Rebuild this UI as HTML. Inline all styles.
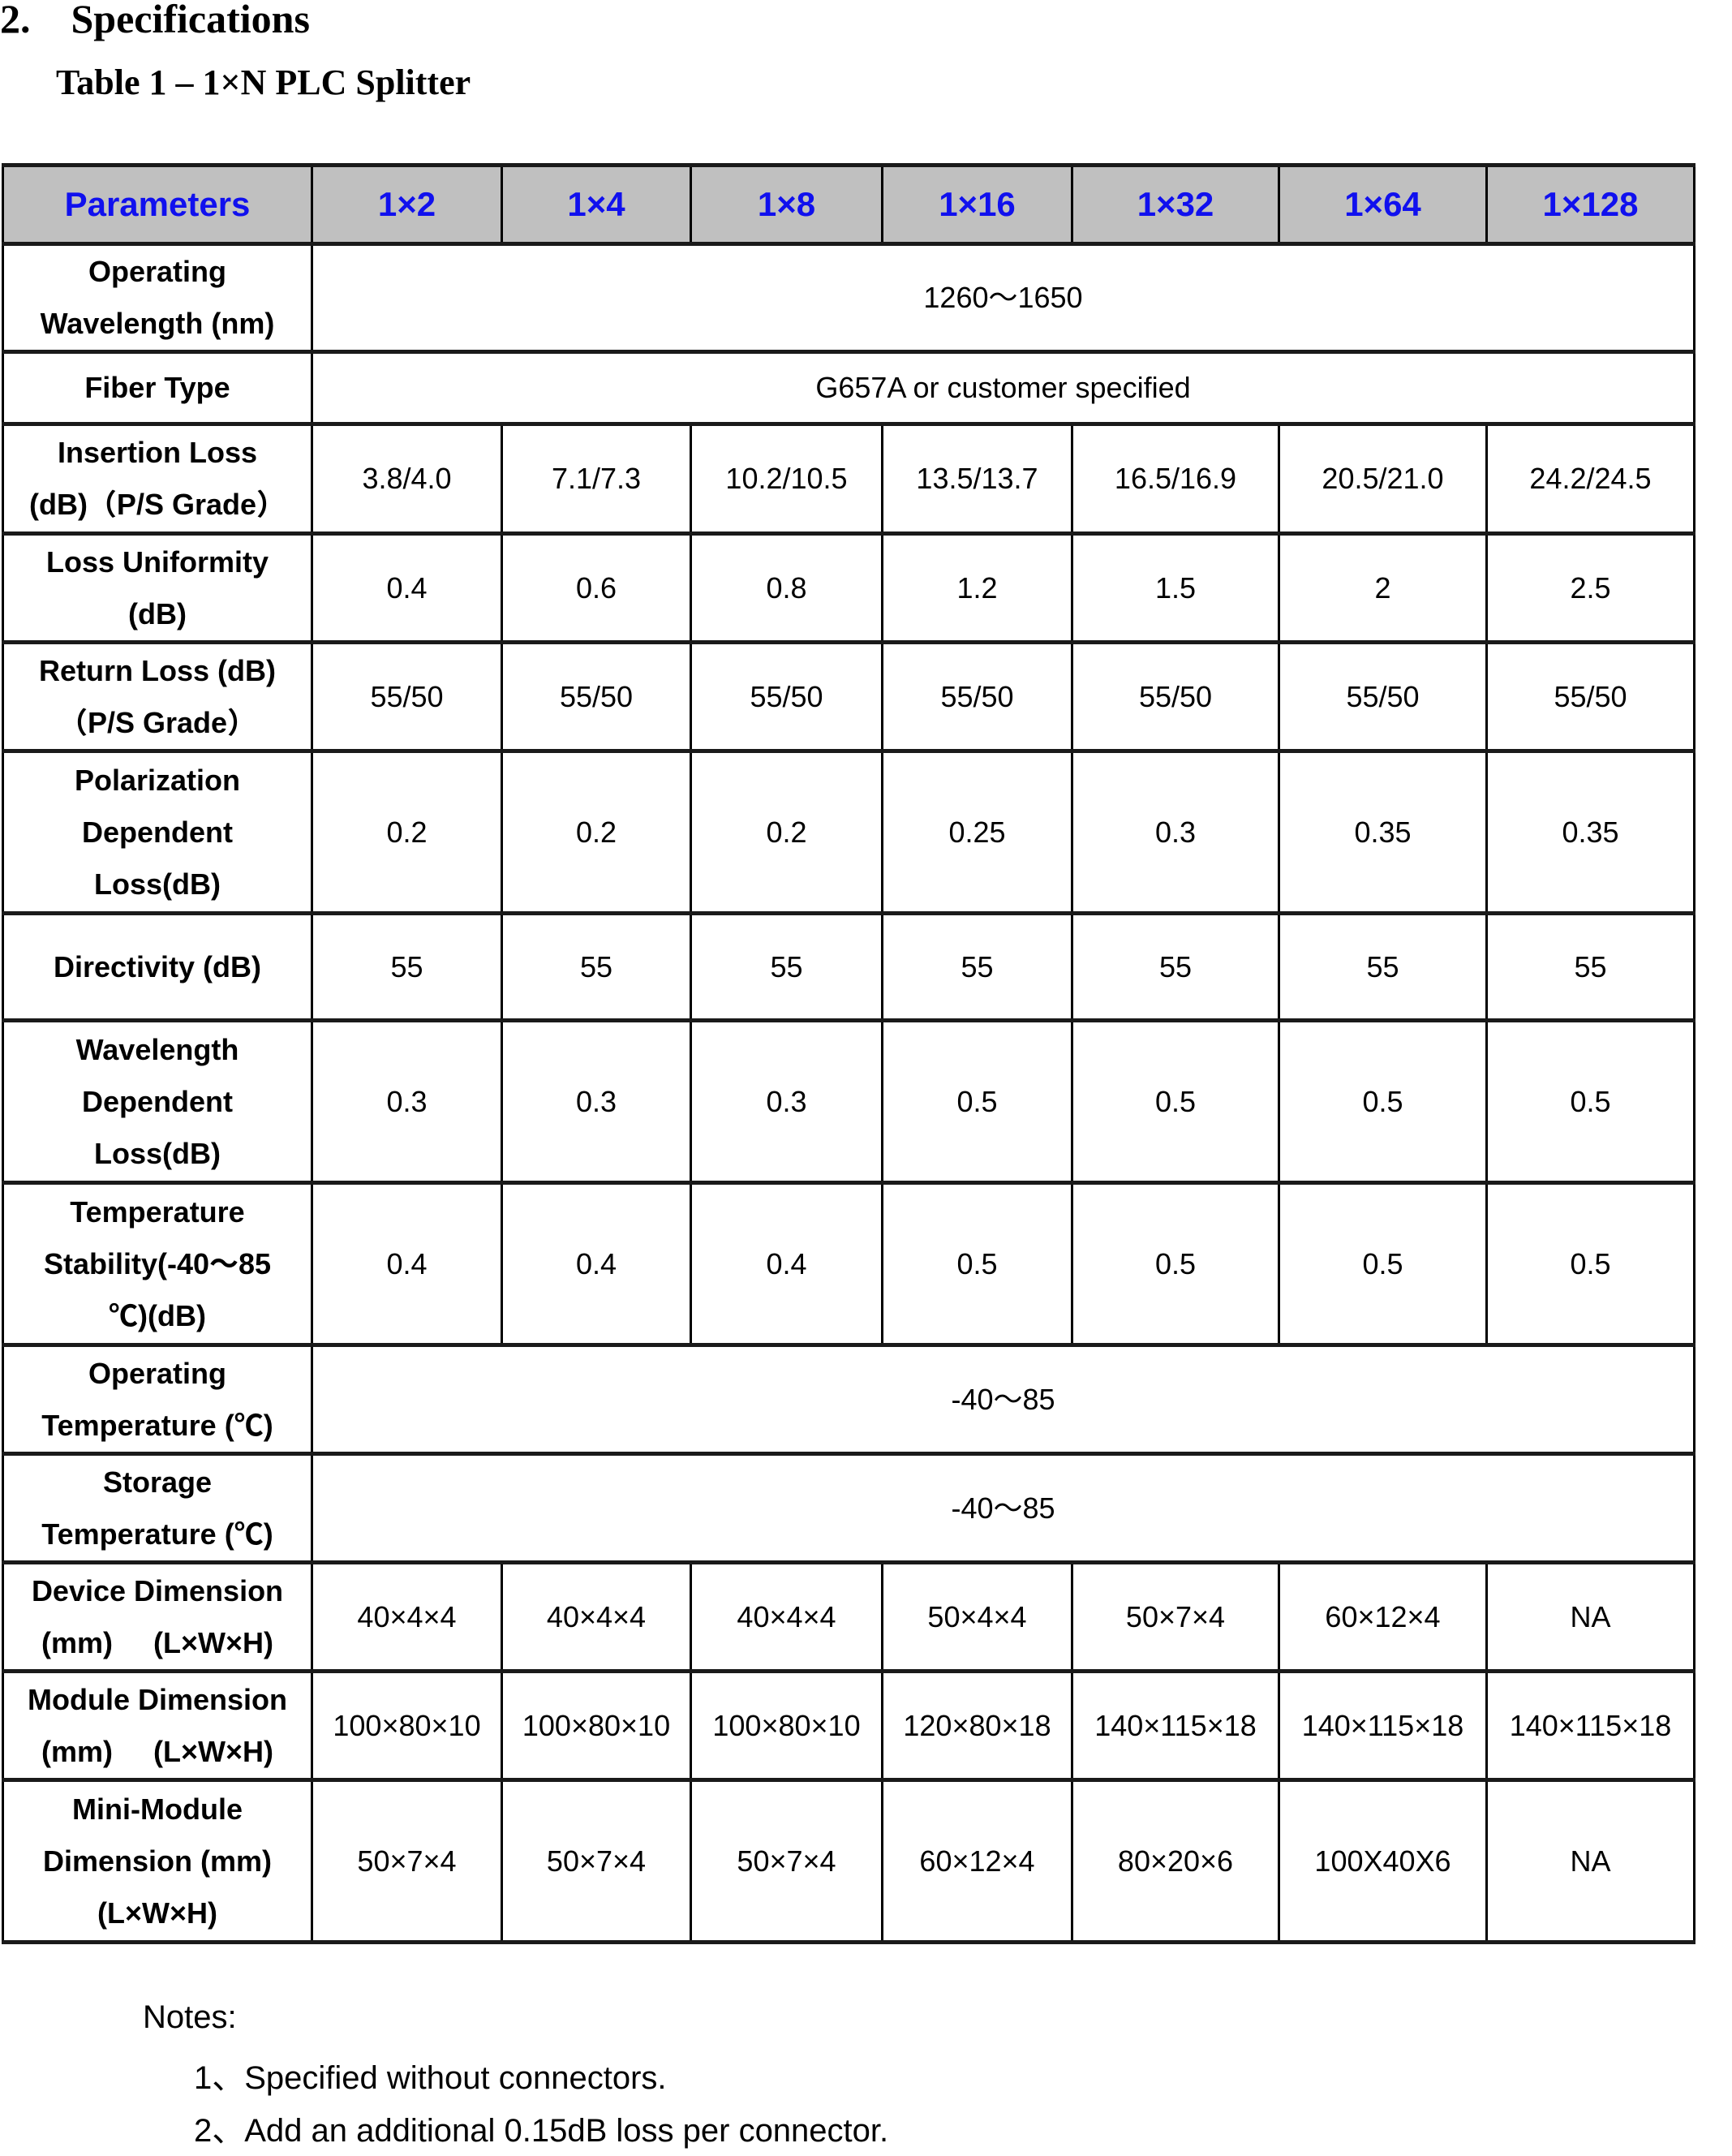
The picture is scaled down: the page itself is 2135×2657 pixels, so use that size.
<!DOCTYPE html>
<html><head><meta charset="utf-8"><style>
html,body{margin:0;padding:0;background:#fff;}
body{width:2135px;height:2657px;position:relative;overflow:hidden;font-family:"Liberation Sans","Noto Sans CJK SC",sans-serif;color:#000;}
.t{position:absolute;white-space:nowrap;}
table{position:absolute;left:2px;top:201px;border-collapse:collapse;table-layout:fixed;}
td{border-left:3px solid #000;border-right:3px solid #000;border-top:5px solid #1a1a1a;border-bottom:5px solid #1a1a1a;text-align:center;vertical-align:middle;padding:0;font-size:36px;line-height:64px;}
td.l{font-weight:bold;}
td.l3{line-height:64px;}
tr.h td{background:#c0c0c0;color:#1010ee;font-weight:bold;font-size:42px;}
</style></head><body>
<div class="t" style="left:0;top:-6px;font-family:'Liberation Serif',serif;font-weight:bold;font-size:50px;">2.&nbsp;&nbsp;&nbsp; Specifications</div>
<div class="t" style="left:69px;top:76px;font-family:'Liberation Serif',serif;font-weight:bold;font-size:44px;">Table 1 – 1×N PLC Splitter</div>
<table>
<colgroup><col style="width:381px"><col style="width:234px"><col style="width:233px"><col style="width:236px"><col style="width:234px"><col style="width:255px"><col style="width:256px"><col style="width:256px"></colgroup>
<tr class="h" style="height:97px"><td>Parameters</td><td>1×2</td><td>1×4</td><td>1×8</td><td>1×16</td><td>1×32</td><td>1×64</td><td>1×128</td></tr>
<tr style="height:132px"><td class="l">Operating<br>Wavelength (nm)</td><td colspan="7">1260～1650</td></tr>
<tr style="height:89px"><td class="l">Fiber Type</td><td colspan="7">G657A or customer specified</td></tr>
<tr style="height:135px"><td class="l">Insertion Loss<br>(dB)（P/S Grade）</td><td>3.8/4.0</td><td>7.1/7.3</td><td>10.2/10.5</td><td>13.5/13.7</td><td>16.5/16.9</td><td>20.5/21.0</td><td>24.2/24.5</td></tr>
<tr style="height:134px"><td class="l">Loss Uniformity<br>(dB)</td><td>0.4</td><td>0.6</td><td>0.8</td><td>1.2</td><td>1.5</td><td>2</td><td>2.5</td></tr>
<tr style="height:134px"><td class="l">Return Loss (dB)<br>（P/S Grade）</td><td>55/50</td><td>55/50</td><td>55/50</td><td>55/50</td><td>55/50</td><td>55/50</td><td>55/50</td></tr>
<tr style="height:200px"><td class="l l3">Polarization<br>Dependent<br>Loss(dB)</td><td>0.2</td><td>0.2</td><td>0.2</td><td>0.25</td><td>0.3</td><td>0.35</td><td>0.35</td></tr>
<tr style="height:132px"><td class="l">Directivity (dB)</td><td>55</td><td>55</td><td>55</td><td>55</td><td>55</td><td>55</td><td>55</td></tr>
<tr style="height:200px"><td class="l l3">Wavelength<br>Dependent<br>Loss(dB)</td><td>0.3</td><td>0.3</td><td>0.3</td><td>0.5</td><td>0.5</td><td>0.5</td><td>0.5</td></tr>
<tr style="height:200px"><td class="l l3">Temperature<br>Stability(-40～85<br>℃)(dB)</td><td>0.4</td><td>0.4</td><td>0.4</td><td>0.5</td><td>0.5</td><td>0.5</td><td>0.5</td></tr>
<tr style="height:134px"><td class="l">Operating<br>Temperature (℃)</td><td colspan="7">-40～85</td></tr>
<tr style="height:134px"><td class="l">Storage<br>Temperature (℃)</td><td colspan="7">-40～85</td></tr>
<tr style="height:134px"><td class="l">Device Dimension<br>(mm)&nbsp;&nbsp;&nbsp;&nbsp; (L×W×H)</td><td>40×4×4</td><td>40×4×4</td><td>40×4×4</td><td>50×4×4</td><td>50×7×4</td><td>60×12×4</td><td>NA</td></tr>
<tr style="height:134px"><td class="l">Module Dimension<br>(mm)&nbsp;&nbsp;&nbsp;&nbsp; (L×W×H)</td><td>100×80×10</td><td>100×80×10</td><td>100×80×10</td><td>120×80×18</td><td>140×115×18</td><td>140×115×18</td><td>140×115×18</td></tr>
<tr style="height:200px"><td class="l l3">Mini-Module<br>Dimension (mm)<br>(L×W×H)</td><td>50×7×4</td><td>50×7×4</td><td>50×7×4</td><td>60×12×4</td><td>80×20×6</td><td>100X40X6</td><td>NA</td></tr>
</table>
<div class="t" style="left:176px;top:2464px;font-size:40px;">Notes:</div>
<div class="t" style="left:239px;top:2528px;font-size:40px;">1、Specified without connectors.</div>
<div class="t" style="left:239px;top:2593px;font-size:40px;">2、Add an additional 0.15dB loss per connector.</div>
</body></html>
